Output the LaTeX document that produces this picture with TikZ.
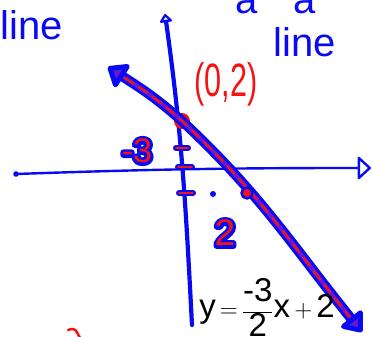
\documentclass[tikz,border=0pt]{standalone}
\usepackage{fontspec}
\setmainfont{Liberation Sans}
\usetikzlibrary{arrows.meta, positioning}
\definecolor{pblue}{HTML}{0A0AF2}
\definecolor{pred}{HTML}{F41212}
\definecolor{pmix}{HTML}{6A18D0}
\newcommand{\penfont}[1]{\fontsize{#1}{#1}\selectfont}
\newcommand{\inked}[1]{\makebox[0pt][l]{\special{pdf:literal direct 1 Tr 6 w 1 j 1 J 0.04 0.04 0.95 RG}#1\special{pdf:literal direct 0 Tr}}\textcolor{pred}{#1}}
\newcommand{\eqbig}[1]{\hbox{\penfont{33}#1}}
\tikzset{
  every picture/.style={line cap=round, line join=round},
  word/.style={text=pblue, font={\penfont{40}}},
  inkedlabel/.style={font={\penfont{34}}, inner sep=0pt},
  ptlabel/.style={text=pred, font={\penfont{36}}, inner sep=0pt},
  axis/.style={draw=pblue},
  tickmark/.style={draw=pblue, line width=6pt, postaction={draw=pred, line width=1.8pt}},
  slope/.style={draw=pblue, line width=10pt,
    {Triangle[round, length=20pt, width=31pt, fill=pmix]}-{Triangle[round, length=20pt, width=31pt, fill=pmix]},
    postaction={draw=pmix, line width=4pt, arrows=-, shorten <=20pt, shorten >=20pt},
    postaction={draw=pred, line width=2.2pt, arrows=-, dash pattern=on 10pt off 7pt, shorten <=20pt, shorten >=20pt}},
}
\begin{document}
\begin{tikzpicture}[x=1pt, y=1pt]
  \useasboundingbox (0,0) rectangle (373,337);
  % words cut by the page edge
  \node[word, anchor=base] (lineL) at (32,297) {line};
  \node[word, anchor=base] (lineR) at (305,280) {line};
  \node[word, anchor=base] (topaa) at (276,323) {a\hspace{36pt}a};
  \coordinate (arcA) at (68,7);
  \coordinate (arcB) at (81,-3);
  \draw[pred, line width=2.5pt] (arcA) .. controls (75,9) .. (arcB);
  % axes
  \coordinate (xl) at (16,163);
  \coordinate (xr) at (371,169);
  \coordinate (yb) at (192,12);
  \coordinate (yt) at (165,323);
  \draw[axis, line width=2.4pt, -{Triangle[open, round, length=14pt, width=25pt]}] (xl) to[out=2, in=180] (xr);
  \fill[pblue] (xl) circle (2.8pt);
  \draw[axis, line width=4.2pt, -{Triangle[open, round, length=9pt, width=14pt]}] (yb) to[out=93, in=-82] (yt);
  % ticks and marks
  \foreach \a/\b/\y in {176/188/189, 178/192/170, 179/193/144}
    \draw[tickmark] (\a,\y) -- (\b,\y);
  \coordinate (dotx) at (213,143);
  \fill[pblue] (dotx) circle (3pt);
  \node[inkedlabel] (negthree) at (137,186) {\inked{-3}};
  \node[inkedlabel, font={\penfont{37}}] (run) at (225,104) {\inked{2}};
  % the line through (0,2)
  \coordinate (yint) at (182,216);
  \coordinate (tipL) at (108,270);
  \coordinate (tipR) at (362,5);
  \coordinate (pt) at (247,144);
  \fill[pred] (yint) circle (8pt);
  \draw[slope] (tipL) to[out=-33, in=138] (yint) to[out=-43, in=129] (tipR);
  \filldraw[draw=pblue, fill=pred, line width=2.5pt] (pt) circle (5.5pt);
  \node[ptlabel] (lab02) at (226,253) {\scalebox{0.85}[1.3]{(0,2)}};
  \node[anchor=base, font={\penfont{26}}] (eqn) at (267,19) {$\displaystyle \eqbig{y}\,\mathord{=}\,\frac{\eqbig{-3}}{\eqbig{2}}\eqbig{x}\,\mathord{+}\,\eqbig{2}$};
\end{tikzpicture}
\end{document}
